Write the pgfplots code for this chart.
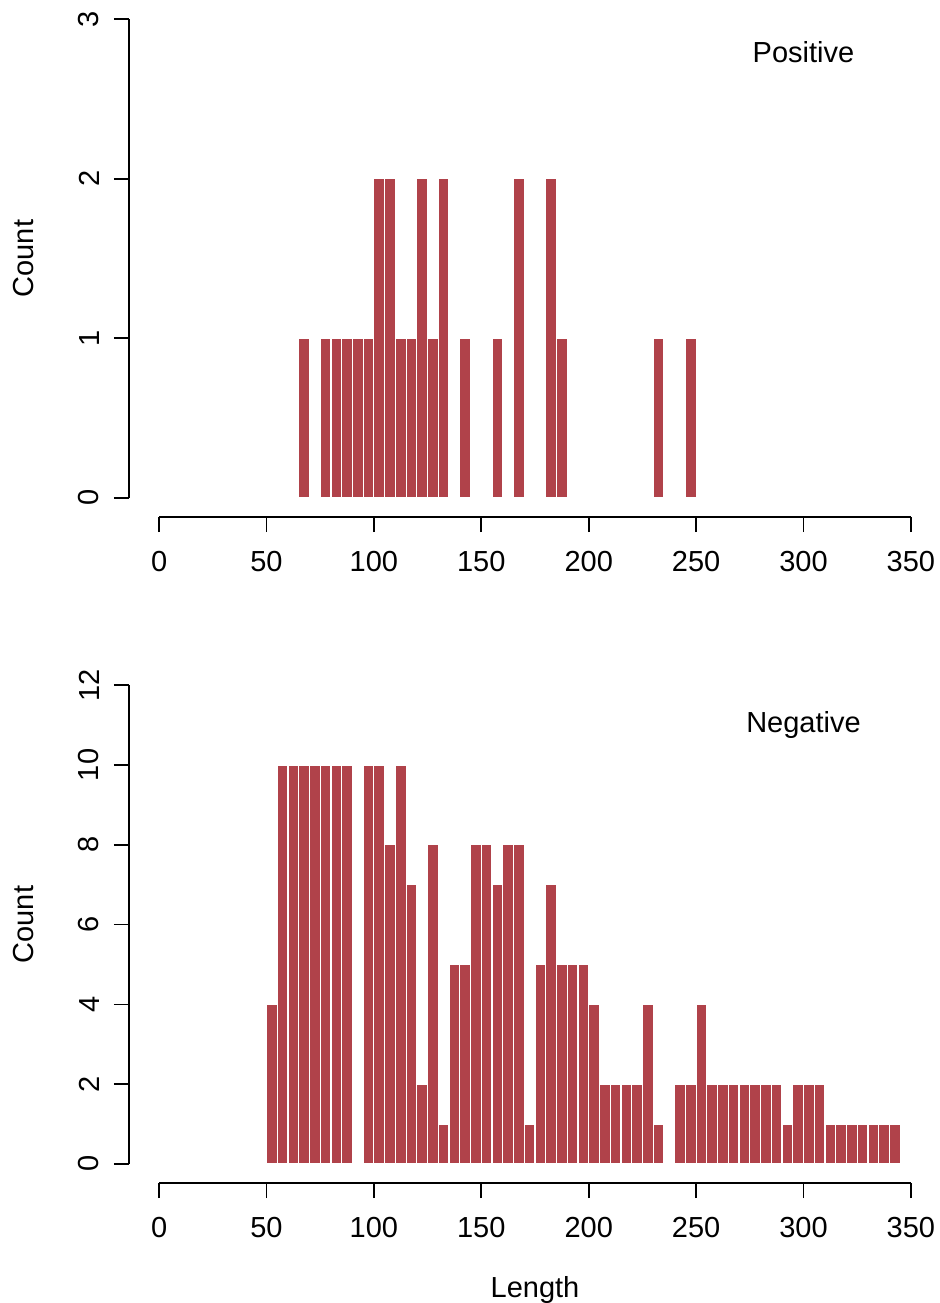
\documentclass[border=0pt]{standalone}
\usepackage{fontspec}
\setmainfont{Liberation Sans}
\usepackage{pgfplots}
\pgfplotsset{compat=1.18}
\definecolor{barred}{RGB}{176,66,74}

% R-style histogram panel: detached axes, outside ticks, rotated y labels
\pgfplotsset{histo/.style={
  scale only axis, width=406pt, height=258.5pt,
  xmin=-14, xmax=364,
  axis x line*=bottom, axis y line*=left,
  axis line style={draw=none},
  xtick={0,50,...,350},
  tick align=outside, major tick length=7.5pt,
  tick style={black, line width=0.8pt},
  font=\fontsize{14.5}{17}\selectfont,
  /pgf/number format/assume math mode=true,
  xticklabel style={inner sep=0pt, anchor=north},
  xticklabel shift=9.25pt,
  yticklabel style={rotate=90, anchor=south, inner sep=0pt},
  yticklabel shift=7.25pt,
  % shift is in the rotated frame: yshift moves the label left
  every axis y label/.style={at={(rel axis cs:0,0.5)}, rotate=90, anchor=base, yshift=47.75pt},
  ylabel={Count},
  clip=false,
}}

\begin{document}
\begin{tikzpicture}
\useasboundingbox (0,0) rectangle (469.5pt,-651.5pt);

% positive
\begin{axis}[histo, at={(64.5pt,-258.5pt)}, anchor=south west,
  ymin=-0.12, ymax=3.12, ytick={0,1,2,3}]
\addplot[ybar interval, fill=barred, draw=white, line width=0.6pt] coordinates {
(65,1) (70,0) (75,1) (80,1) (85,1) (90,1) (95,1) (100,2) (105,2) (110,1)
(115,1) (120,2) (125,1) (130,2) (135,0) (140,1) (145,0) (150,0) (155,1) (160,0)
(165,2) (170,0) (175,0) (180,2) (185,1) (190,0) (195,0) (200,0) (205,0) (210,0)
(215,0) (220,0) (225,0) (230,1) (235,0) (240,0) (245,1) (250,0)
};
\draw[line width=0.8pt] (axis cs:0,-0.12) -- (axis cs:350,-0.12);
\draw[line width=0.8pt] (axis cs:-14,0) -- (axis cs:-14,3);
\node[anchor=base] at (axis cs:300,2.727) {Positive};
\end{axis}

% negative
\begin{axis}[histo, at={(64.5pt,-591.5pt)}, anchor=south west,
  ymin=-0.48, ymax=12.48, ytick={0,2,...,12},
  xlabel={Length},
  every axis x label/.style={at={(rel axis cs:0.5,0)}, anchor=base, yshift=-57.25pt}]
\addplot[ybar interval, fill=barred, draw=white, line width=0.6pt] coordinates {
(50,4) (55,10) (60,10) (65,10) (70,10) (75,10) (80,10) (85,10) (90,0) (95,10)
(100,10) (105,8) (110,10) (115,7) (120,2) (125,8) (130,1) (135,5) (140,5) (145,8)
(150,8) (155,7) (160,8) (165,8) (170,1) (175,5) (180,7) (185,5) (190,5) (195,5)
(200,4) (205,2) (210,2) (215,2) (220,2) (225,4) (230,1) (235,0) (240,2) (245,2)
(250,4) (255,2) (260,2) (265,2) (270,2) (275,2) (280,2) (285,2) (290,1) (295,2)
(300,2) (305,2) (310,1) (315,1) (320,1) (325,1) (330,1) (335,1) (340,1) (345,0)
};
\draw[line width=0.8pt] (axis cs:0,-0.48) -- (axis cs:350,-0.48);
\draw[line width=0.8pt] (axis cs:-14,0) -- (axis cs:-14,12);
\node[anchor=base] at (axis cs:300,10.81) {Negative};
\end{axis}
\end{tikzpicture}
\end{document}
